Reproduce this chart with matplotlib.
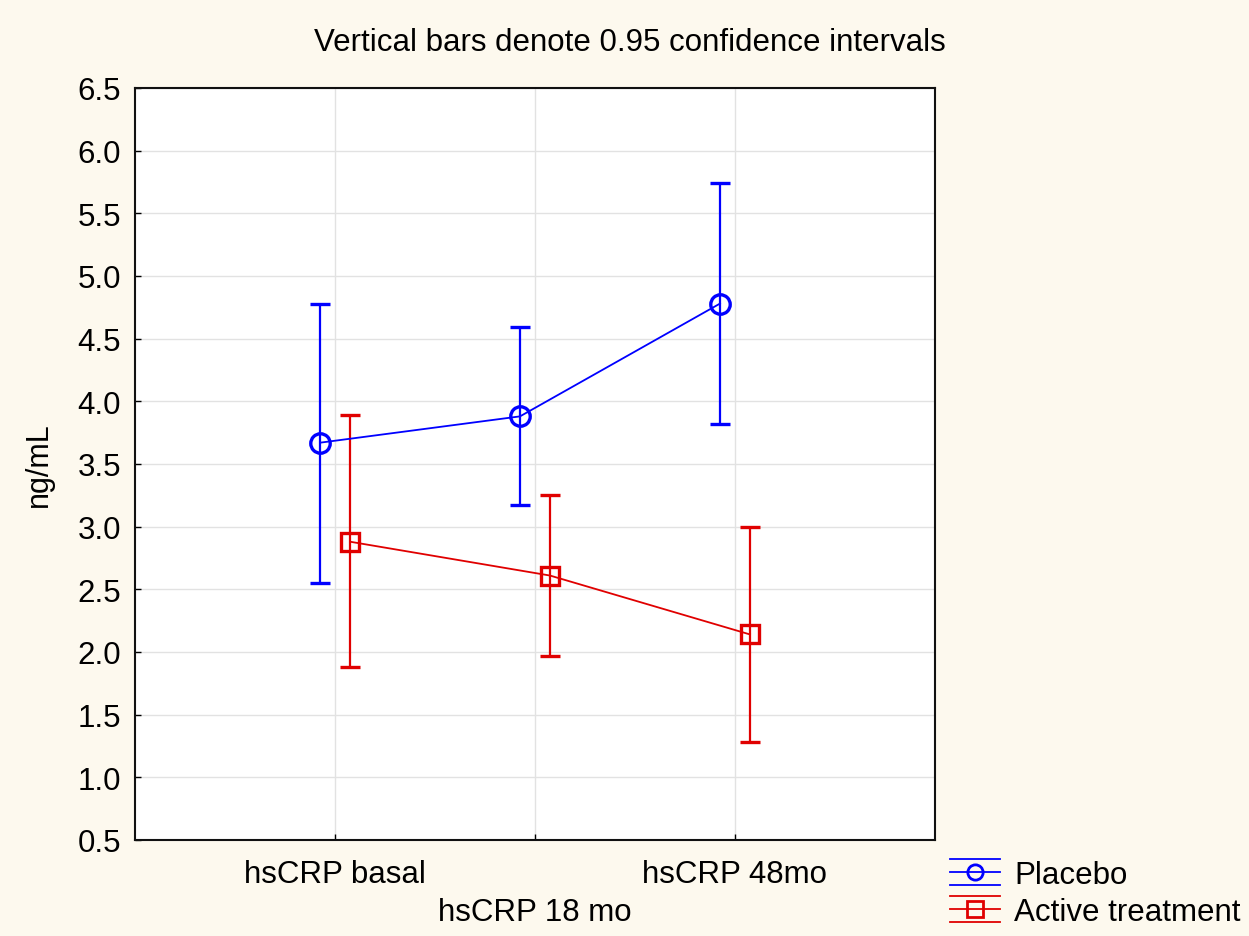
import numpy as np
import matplotlib.pyplot as plt
from matplotlib.legend_handler import HandlerBase
from matplotlib.lines import Line2D

plt.rcParams['font.family'] = ['Liberation Sans', 'DejaVu Sans']

categories = ['hsCRP basal', 'hsCRP 18 mo', 'hsCRP 48mo']

placebo_mean = [3.67, 3.88, 4.78]
placebo_lo = [2.55, 3.17, 3.82]
placebo_hi = [4.78, 4.59, 5.74]

active_mean = [2.88, 2.61, 2.14]
active_lo = [1.88, 1.97, 1.28]
active_hi = [3.89, 3.25, 3.00]

blue = '#0000ff'
red = '#e00000'


class HandlerCI(HandlerBase):
    # legend key: three horizontal lines with the marker on the middle one
    def create_artists(self, legend, orig_handle, xdescent, ydescent,
                       width, height, fontsize, trans):
        c = orig_handle.get_color()
        ymid = height / 2 - ydescent
        arts = []
        for dy in (-0.6 * height, 0, 0.6 * height):
            arts.append(Line2D([-xdescent, width - xdescent], [ymid + dy, ymid + dy],
                               color=c, lw=1.3, transform=trans))
        arts.append(Line2D([width / 2 - xdescent], [ymid], marker=orig_handle.get_marker(),
                           markersize=11, mfc='none', mec=c, mew=2, ls='none',
                           transform=trans))
        return arts


fig = plt.figure(figsize=(12.49, 9.37), dpi=100, facecolor='#fdf9ee')
ax = fig.add_axes([135 / 1249, 1 - 841 / 937, 800 / 1249, 752 / 937])

x = np.arange(len(categories))
off = 0.075

pm = np.array(placebo_mean)
am = np.array(active_mean)
ax.errorbar(x - off, pm, yerr=[pm - np.array(placebo_lo), np.array(placebo_hi) - pm],
            color=blue, lw=1.3, marker='o', markersize=14, mfc='none', mec=blue, mew=2.4,
            capsize=7, capthick=1.6, elinewidth=1.6, zorder=3)
ax.errorbar(x + off, am, yerr=[am - np.array(active_lo), np.array(active_hi) - am],
            color=red, lw=1.3, marker='s', markersize=13, mfc='none', mec=red, mew=2.4,
            capsize=7, capthick=1.6, elinewidth=1.6, zorder=3)

ax.set_xlim(-1, 3)
ax.set_ylim(0.5, 6.5)
ax.set_yticks(np.arange(0.5, 6.51, 0.5))
ax.set_yticklabels([f'{v:.1f}' for v in np.arange(0.5, 6.51, 0.5)])
ax.set_xticks(x)
ax.set_xticklabels(categories)
for i, lab in enumerate(ax.get_xticklabels()):
    if i == 1:
        lab.set_y(-0.05)
ax.tick_params(axis='both', direction='in', length=4, labelsize=22.5, width=1)
ax.tick_params(axis='x', pad=14)
ax.tick_params(axis='y', pad=10)
ax.grid(True, color='#e2e2e2', lw=1)
ax.set_axisbelow(True)
for s in ax.spines.values():
    s.set_linewidth(1.5)
    s.set_color('#111111')

ax.set_ylabel('ng/mL', fontsize=22, labelpad=17)
fig.text(0.504, 1 - 43 / 937, 'Vertical bars denote 0.95 confidence intervals',
         ha='center', va='center', fontsize=22.5)

h1 = Line2D([], [], color=blue, marker='o')
h2 = Line2D([], [], color=red, marker='s')
fig.legend([h1, h2], ['Placebo', 'Active treatment'],
           handler_map={Line2D: HandlerCI()},
           loc='upper left', bbox_to_anchor=(950 / 1249, 1 - 861 / 937),
           frameon=False, fontsize=22.5, handlelength=1.6, handletextpad=0.45,
           labelspacing=0.23, borderaxespad=0, borderpad=0)

fig.savefig('out.png', dpi=100, facecolor=fig.get_facecolor())
